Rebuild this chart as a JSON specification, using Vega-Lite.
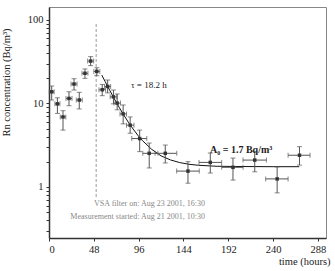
{
  "$schema": "https://vega.github.io/schema/vega-lite/v6.json",
  "width": 277,
  "height": 231,
  "autosize": "none",
  "padding": {"left": 49, "top": 7, "right": 9, "bottom": 33},
  "config": {
    "view": {"stroke": "#888", "strokeWidth": 1},
    "font": "Liberation Serif",
    "axis": {"grid": false, "labelFont": "Liberation Serif", "titleFont": "Liberation Serif", "labelFontSize": 10.5, "titleFontSize": 10.5, "titleFontWeight": "normal", "labelColor": "#222", "titleColor": "#222", "domainColor": "#333", "domainWidth": 1.5, "tickColor": "#333", "tickSize": 3, "labelPadding": 3}
  },
  "datasets": {
    "pts": [
      {"t": 2.9, "c": 13.8, "tlo": 0.3, "thi": 5.5, "clo": 11.0, "chi": 16.2},
      {"t": 9.0, "c": 9.9, "tlo": 6.3, "thi": 11.7, "clo": 7.6, "chi": 11.7},
      {"t": 15.0, "c": 6.9, "tlo": 12.0, "thi": 18.0, "clo": 4.8, "chi": 8.2},
      {"t": 21.4, "c": 11.5, "tlo": 18.2, "thi": 24.6, "clo": 9.4, "chi": 13.8},
      {"t": 26.8, "c": 17.1, "tlo": 23.6, "thi": 30.0, "clo": 14.5, "chi": 19.8},
      {"t": 32.4, "c": 11.0, "tlo": 29.2, "thi": 35.6, "clo": 8.6, "chi": 13.6},
      {"t": 38.5, "c": 23.0, "tlo": 35.3, "thi": 41.7, "clo": 20.0, "chi": 25.9},
      {"t": 44.6, "c": 32.2, "tlo": 41.4, "thi": 47.8, "clo": 28.4, "chi": 36.4},
      {"t": 51.2, "c": 24.2, "tlo": 48.0, "thi": 54.4, "clo": 21.5, "chi": 26.8},
      {"t": 57.0, "c": 14.6, "tlo": 53.5, "thi": 60.5, "clo": 12.4, "chi": 16.9},
      {"t": 62.8, "c": 16.0, "tlo": 59.5, "thi": 66.0, "clo": 13.4, "chi": 19.1},
      {"t": 69.0, "c": 12.0, "tlo": 65.5, "thi": 72.5, "clo": 9.9, "chi": 14.5},
      {"t": 73.0, "c": 10.1, "tlo": 69.5, "thi": 76.5, "clo": 8.4, "chi": 13.0},
      {"t": 79.4, "c": 7.5, "tlo": 76.0, "thi": 83.0, "clo": 5.7, "chi": 9.6},
      {"t": 86.9, "c": 5.5, "tlo": 83.0, "thi": 91.0, "clo": 4.4, "chi": 6.9},
      {"t": 97.1, "c": 3.8, "tlo": 88.6, "thi": 104.7, "clo": 2.65, "chi": 4.8},
      {"t": 107.3, "c": 2.53, "tlo": 100.4, "thi": 116.6, "clo": 1.69, "chi": 3.36},
      {"t": 124.5, "c": 2.53, "tlo": 113.6, "thi": 136.8, "clo": 1.94, "chi": 3.18},
      {"t": 148.8, "c": 1.55, "tlo": 136.7, "thi": 160.9, "clo": 1.11, "chi": 2.01},
      {"t": 172.7, "c": 1.97, "tlo": 160.6, "thi": 184.9, "clo": 1.47, "chi": 2.55},
      {"t": 197.0, "c": 1.72, "tlo": 184.9, "thi": 207.8, "clo": 1.21, "chi": 2.22},
      {"t": 220.3, "c": 2.1, "tlo": 207.7, "thi": 232.8, "clo": 1.52, "chi": 2.65},
      {"t": 244.3, "c": 1.25, "tlo": 232.0, "thi": 256.0, "clo": 0.85, "chi": 1.74},
      {"t": 268.2, "c": 2.4, "tlo": 256.0, "thi": 279.5, "clo": 1.83, "chi": 3.04}
    ],
    "fit": [
      {"t": 56.5, "c": 21.9}, {"t": 60, "c": 18.4}, {"t": 65, "c": 14.4}, {"t": 70, "c": 11.35},
      {"t": 75, "c": 9.04}, {"t": 80, "c": 7.29}, {"t": 85, "c": 5.96}, {"t": 90, "c": 4.95},
      {"t": 95, "c": 4.18}, {"t": 100, "c": 3.6}, {"t": 110, "c": 2.82}, {"t": 120, "c": 2.36},
      {"t": 130, "c": 2.11}, {"t": 140, "c": 1.96}, {"t": 150, "c": 1.87}, {"t": 160, "c": 1.82},
      {"t": 180, "c": 1.77}, {"t": 200, "c": 1.76}, {"t": 240, "c": 1.75}, {"t": 268, "c": 1.75}
    ],
    "vsa": [{"t": 50.5, "c": 0.76, "c2": 92}],
    "notes": [
      {"t": 87.8, "c": 16.7, "label": "τ = 18.2 h"}
    ],
    "a0": [
      {"t": 172.4, "c": 2.77, "label": "A₀ = 1.7 Bq/m³"}
    ],
    "info": [
      {"t": 167, "c": 0.63, "label": "VSA filter on: Aug 23 2001, 16:30"},
      {"t": 167, "c": 0.44, "label": "Measurement started: Aug 21 2001, 10:30"}
    ]
  },
  "layer": [
    {
      "data": {"name": "vsa"},
      "mark": {"type": "rule", "color": "#999", "strokeDash": [3, 2], "strokeWidth": 1},
      "encoding": {
        "x": {"field": "t", "type": "quantitative", "scale": {"domain": [0, 296.6], "nice": false, "zero": false},
          "axis": {"values": [0,12,24,36,48,60,72,84,96,108,120,132,144,156,168,180,192,204,216,228,240,252,264,276,288],
            "labelExpr": "datum.value % 48 == 0 ? datum.label : ''", "title": "time  (hours)",
            "titleAlign": "right", "titleX": 281, "titleY": 18}},
        "y": {"field": "c", "type": "quantitative", "scale": {"type": "log", "domain": [0.245, 143], "nice": false},
          "axis": {"values": [0.3,0.4,0.5,0.6,0.7,0.8,0.9,1,2,3,4,5,6,7,8,9,10,20,30,40,50,60,70,80,90,100],
            "labelExpr": "datum.value == 1 || datum.value == 10 || datum.value == 100 ? datum.label : ''",
            "format": "~g", "title": "Rn concentration (Bq/m³)", "titleX": -38, "titleY": 75}},
        "y2": {"field": "c2"}
      }
    },
    {
      "data": {"name": "fit"},
      "mark": {"type": "line", "color": "#111", "strokeWidth": 1},
      "encoding": {
        "x": {"field": "t", "type": "quantitative"},
        "y": {"field": "c", "type": "quantitative"}
      }
    },
    {
      "data": {"name": "pts"},
      "mark": {"type": "rule", "color": "#555", "strokeWidth": 1},
      "encoding": {
        "x": {"field": "t", "type": "quantitative"},
        "y": {"field": "clo", "type": "quantitative"},
        "y2": {"field": "chi"}
      }
    },
    {
      "data": {"name": "pts"},
      "mark": {"type": "rule", "color": "#555", "strokeWidth": 1},
      "encoding": {
        "y": {"field": "c", "type": "quantitative"},
        "x": {"field": "tlo", "type": "quantitative"},
        "x2": {"field": "thi"}
      }
    },
    {
      "data": {"name": "pts"},
      "mark": {"type": "tick", "orient": "horizontal", "color": "#555", "size": 5, "thickness": 1},
      "encoding": {
        "x": {"field": "t", "type": "quantitative"},
        "y": {"field": "clo", "type": "quantitative"}
      }
    },
    {
      "data": {"name": "pts"},
      "mark": {"type": "tick", "orient": "horizontal", "color": "#555", "size": 5, "thickness": 1},
      "encoding": {
        "x": {"field": "t", "type": "quantitative"},
        "y": {"field": "chi", "type": "quantitative"}
      }
    },
    {
      "data": {"name": "pts"},
      "mark": {"type": "tick", "orient": "vertical", "color": "#555", "size": 5, "thickness": 1},
      "encoding": {
        "x": {"field": "tlo", "type": "quantitative"},
        "y": {"field": "c", "type": "quantitative"}
      }
    },
    {
      "data": {"name": "pts"},
      "mark": {"type": "tick", "orient": "vertical", "color": "#555", "size": 5, "thickness": 1},
      "encoding": {
        "x": {"field": "thi", "type": "quantitative"},
        "y": {"field": "c", "type": "quantitative"}
      }
    },
    {
      "data": {"name": "pts"},
      "mark": {"type": "square", "filled": true, "color": "#333", "size": 12, "opacity": 1},
      "encoding": {
        "x": {"field": "t", "type": "quantitative"},
        "y": {"field": "c", "type": "quantitative"}
      }
    },
    {
      "data": {"name": "notes"},
      "mark": {"type": "text", "align": "left", "baseline": "middle", "fontSize": 9, "font": "Liberation Serif", "color": "#222"},
      "encoding": {
        "x": {"field": "t", "type": "quantitative"},
        "y": {"field": "c", "type": "quantitative"},
        "text": {"field": "label"}
      }
    },
    {
      "data": {"name": "a0"},
      "mark": {"type": "text", "align": "left", "baseline": "middle", "fontSize": 10, "fontWeight": "bold", "font": "Liberation Serif", "color": "#222"},
      "encoding": {
        "x": {"field": "t", "type": "quantitative"},
        "y": {"field": "c", "type": "quantitative"},
        "text": {"field": "label"}
      }
    },
    {
      "data": {"name": "info"},
      "mark": {"type": "text", "align": "right", "baseline": "middle", "fontSize": 8, "font": "Liberation Serif", "color": "#888"},
      "encoding": {
        "x": {"field": "t", "type": "quantitative"},
        "y": {"field": "c", "type": "quantitative"},
        "text": {"field": "label"}
      }
    }
  ]
}
